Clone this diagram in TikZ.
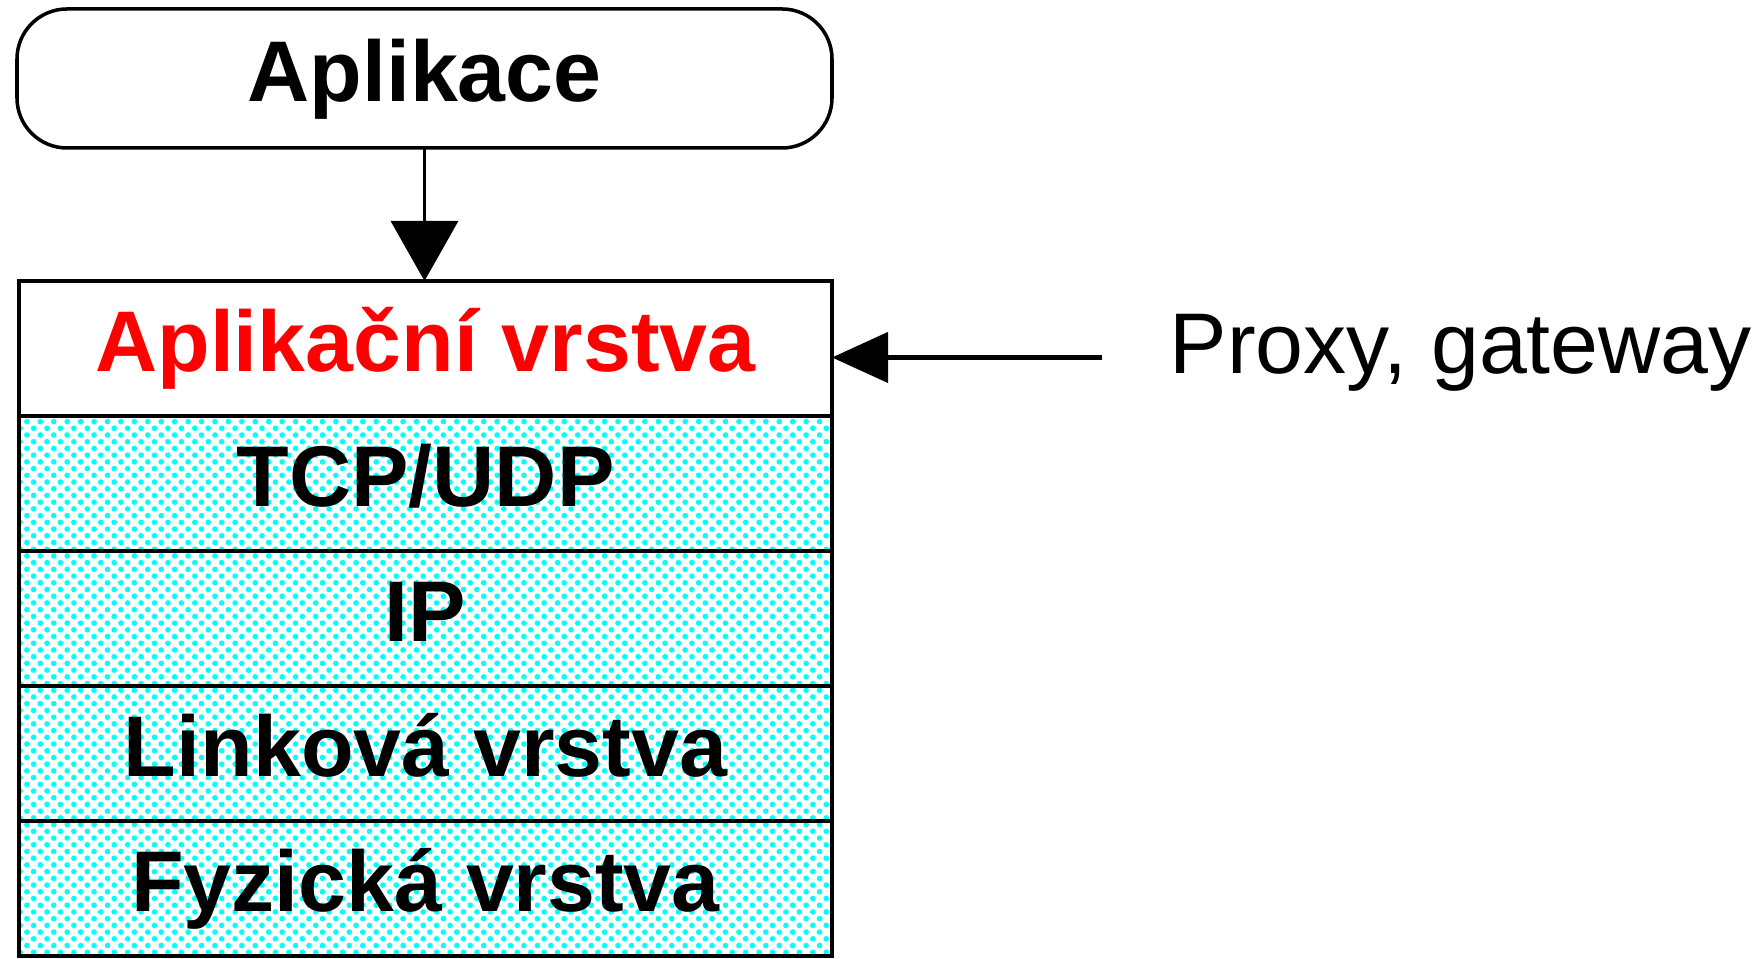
\documentclass[tikz,border=0pt]{standalone}
\usepackage{fontspec}
\setmainfont{Liberation Sans}
\usepackage{tikz}
\usetikzlibrary{positioning,arrows.meta,patterns.meta}

\begin{document}
\begin{tikzpicture}
      \tikzset{
      layer/.style={draw, line width=1.1pt, outer sep=0pt, inner sep=0pt,
        minimum width=8.13cm, minimum height=1.35cm,
        text height=0.62cm, text depth=0.16cm,
        font=\fontsize{24.5}{29}\selectfont\bfseries},
      dotted layer/.style={layer, pattern={Dots[distance=0.095cm, angle=45, radius=0.8pt]}, pattern color=cyan},
      }
      \useasboundingbox (0,0) rectangle (17.63,9.59);

      %Application
      \node[layer, line width=1pt, rounded corners=0.5cm, minimum width=8.15cm, minimum height=1.39cm] (aplik) at (4.245, 8.805) {Aplikace};

      %Layers
      \node[layer, text=red] (app) at (4.255, 6.105) {Aplikační vrstva};
      \node[dotted layer, below=0pt of app] (tcp) {TCP/UDP};
      \node[dotted layer, below=0pt of tcp] (ip) {IP};
      \node[dotted layer, below=0pt of ip] (link) {Linková vrstva};
      \node[dotted layer, below=0pt of link] (phys) {Fyzická vrstva};

      %Proxy
      \node[anchor=base west, inner sep=0pt, font=\fontsize{24.5}{29}\selectfont] (proxy) at (11.69, 5.85) {Proxy, gateway};
      \coordinate (gw) at (11.02, 6.015);

      %arrows
      \draw[line width=1pt, -{Triangle[length=0.6cm, width=0.67cm]}] (aplik.south) -- (aplik.south |- app.north);
      \draw[line width=1.2pt, -{Triangle[length=0.56cm, width=0.5cm]}] (gw) -- (gw -| app.east);
\end{tikzpicture}
\end{document}
